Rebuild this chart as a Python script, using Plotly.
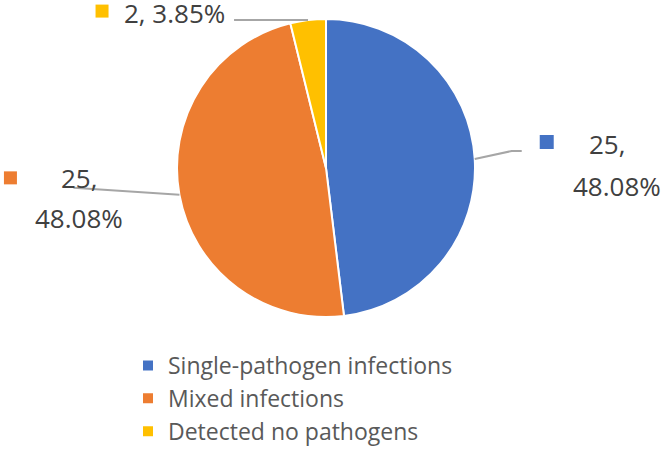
import plotly.graph_objects as go
import math

categories = ["Single-pathogen infections", "Mixed infections", "Detected no pathogens"]
values = [25, 25, 2]
colors = ["#4472C4", "#ED7D31", "#FFC000"]

W, H = 664, 453
CX, CY, R = 326, 168, 149

def px(x):
    return x / W

def py(y):
    return 1 - y / H

fig = go.Figure()
fig.add_trace(go.Pie(
    labels=categories,
    values=values,
    sort=False,
    direction="clockwise",
    rotation=0,
    marker=dict(colors=colors, line=dict(color="white", width=2)),
    textinfo="none",
    hoverinfo="label+value+percent",
    domain=dict(x=[px(CX - R), px(CX + R)], y=[py(CY + R), py(CY - R)]),
))

total = sum(values)
cum = 0
anchors = []
for v in values:
    mid = (cum + v / 2) / total * 2 * math.pi
    anchors.append((CX + R * math.sin(mid), CY - R * math.cos(mid)))
    cum += v

# label layout relative to anchor points: (leader path offsets, square pos, text lines)
label_cfg = [
    dict(path=[(37, -8), (47, -8)], sq=(72, -17), sq_size=14,
         texts=[("{v},", 112, -15, "left"), ("{p}%", 96, 27, "left")]),
    dict(path=[(-106, -7)], sq=(-169, -17), sq_size=13,
         texts=[("{v},", -100, -17, "center"), ("{p}%", -100, 23, "center")]),
    dict(path=[(-74, 0)], sq=(-206, -9), sq_size=13,
         texts=[("{v}, {p}%", -186, -7, "left")]),
]

shapes = []
annotations = []
for i, (v, c, (ax, ay), cfg) in enumerate(zip(values, colors, anchors, label_cfg)):
    pct = f"{v / total * 100:.2f}"
    pts = [(ax, ay)] + [(ax + dx, ay + dy) for dx, dy in cfg["path"]]
    d = "M " + " L ".join(f"{px(x)},{py(y)}" for x, y in pts)
    shapes.append(dict(type="path", xref="paper", yref="paper", path=d,
                       line=dict(color="#A6A6A6", width=2)))
    sx, sy = ax + cfg["sq"][0], ay + cfg["sq"][1]
    s = cfg["sq_size"] / 2
    shapes.append(dict(type="rect", xref="paper", yref="paper",
                       x0=px(sx - s), x1=px(sx + s), y0=py(sy + s), y1=py(sy - s),
                       fillcolor=c, line=dict(width=0)))
    for t, dx, dy, anchor in cfg["texts"]:
        annotations.append(dict(
            xref="paper", yref="paper", x=px(ax + dx), y=py(ay + dy),
            xanchor=anchor, yanchor="middle", showarrow=False,
            text=t.format(v=v, p=pct),
            font=dict(family="Open Sans", size=26, color="#404040"),
        ))

fig.update_layout(
    width=W, height=H,
    margin=dict(l=0, r=0, t=0, b=0),
    paper_bgcolor="white",
    plot_bgcolor="white",
    showlegend=True,
    legend=dict(
        x=px(128), y=0, xanchor="left", yanchor="bottom",
        orientation="v",
        font=dict(family="Open Sans", size=23, color="#595959"),
        itemwidth=30,
        bgcolor="rgba(0,0,0,0)",
    ),
    shapes=shapes,
    annotations=annotations,
)

fig.write_html("out.html")
